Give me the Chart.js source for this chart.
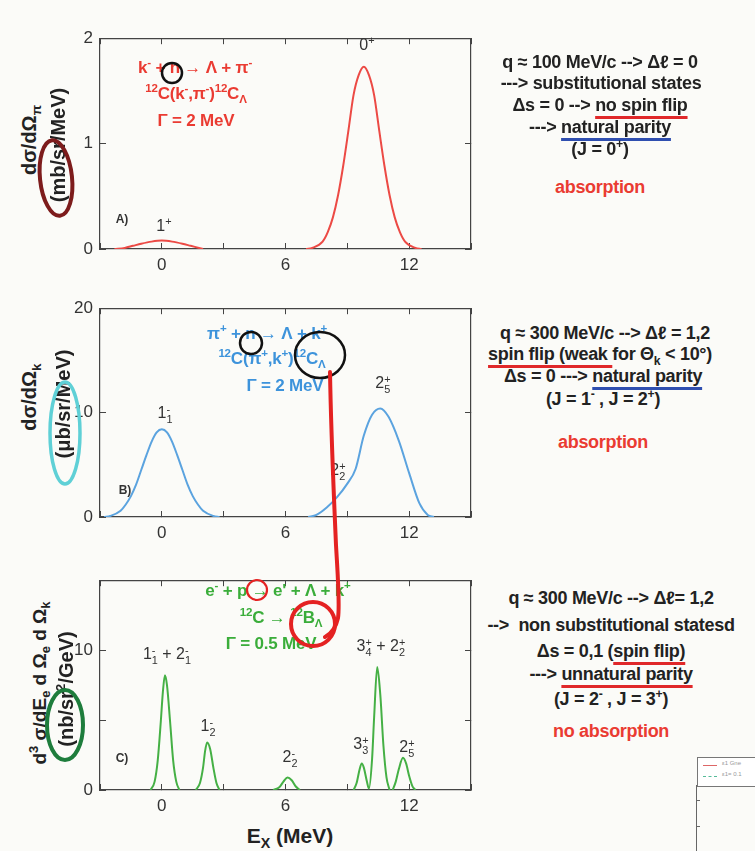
<!DOCTYPE html>
<html>
<head>
<meta charset="utf-8">
<script src="https://cdn.jsdelivr.net/npm/chart.js@4.4.1/dist/chart.umd.min.js"></script>
<style>
  body { margin: 0; background: #fbfbf8; font-family: "Liberation Sans", Arial, sans-serif; }
  #page { position: relative; width: 755px; height: 851px; overflow: hidden; background: #fbfbf8; }
  canvas.panel { position: absolute; }
  .t { position: absolute; white-space: nowrap; transform: translate(-50%, -50%); line-height: 1; }
  .b { font-weight: bold; }
  .lab { font-size: 16px; color: #333; }
  .tag { font-size: 12px; font-weight: bold; color: #333; }
  .ss { display: inline-block; vertical-align: -0.45em; font-size: 0.68em; line-height: 0.95; text-align: left; }
  .ss i { display: block; font-style: normal; }
  sup, sub { font-size: 0.68em; line-height: 0; }
  .eq { font-size: 17px; font-weight: bold; letter-spacing: -0.2px; }
  .red { color: #ea3b32; }
  .blue { color: #3d93db; }
  .green { color: #3aad3a; }
  .side { font-size: 18px; font-weight: bold; color: #222; letter-spacing: -0.3px; }
  .ur, .ub { text-decoration: underline; text-decoration-thickness: 3px; text-underline-offset: 5px; text-decoration-skip-ink: none; }
  .ur { text-decoration-color: #e0282a; }
  .ub { text-decoration-color: #2f4fb0; }
  .ytitle { position: absolute; white-space: nowrap; font-weight: bold; font-size: 20px; color: #222; transform: translate(-50%, -50%) rotate(-90deg); line-height: 1; }
  svg.marks { position: absolute; left: 0; top: 0; pointer-events: none; }
</style>
</head>
<body>
<div id="page">
  <canvas id="chartA" class="panel"></canvas>
  <canvas id="chartB" class="panel"></canvas>
  <canvas id="chartC" class="panel"></canvas>

  <!-- axis titles -->
  <div class="ytitle" style="left:29px; top:140px;">dσ/dΩ<sub>π</sub></div>
  <div class="ytitle" style="left:58px; top:145px;">(mb/sr/MeV)</div>
  <div class="ytitle" style="left:29px; top:397px;">dσ/dΩ<sub>k</sub></div>
  <div class="ytitle" style="left:63px; top:404px;">(μb/sr/MeV)</div>
  <div class="ytitle" style="left:39px; top:683px; font-size:19px;">d<sup>3</sup> σ/dE<sub>e</sub> d Ω<sub>e</sub> d Ω<sub>k</sub></div>
  <div class="ytitle" style="left:66px; top:689px;">(nb/sr<sup>2</sup>/GeV)</div>
  <div class="t b" style="left:290px; top:835px; font-size:21px; color:#222;">E<sub>X</sub> (MeV)</div>

  <!-- panel A text -->
  <div class="t eq red" style="left:195px; top:67px;">k<sup>-</sup> + n → Λ + π<sup>-</sup></div>
  <div class="t eq red" style="left:196px; top:93px;"><sup>12</sup>C(k<sup>-</sup>,π<sup>-</sup>)<sup>12</sup>C<sub>Λ</sub></div>
  <div class="t eq red" style="left:196px; top:120px;">Γ = 2 MeV</div>
  <div class="t lab" style="left:367px; top:45px;">0<sup>+</sup></div>
  <div class="t lab" style="left:164px; top:226px;">1<sup>+</sup></div>
  <div class="t tag" style="left:122px; top:219px;">A)</div>

  <!-- panel B text -->
  <div class="t eq blue" style="left:267px; top:333px;">π<sup>+</sup> + n → Λ + k<sup>+</sup></div>
  <div class="t eq blue" style="left:272px; top:358px;"><sup>12</sup>C(π<sup>+</sup>,k<sup>+</sup>)<sup>12</sup>C<sub>Λ</sub></div>
  <div class="t eq blue" style="left:285px; top:385px;">Γ = 2 MeV</div>
  <div class="t lab" style="left:165px; top:414px;">1<span class="ss"><i>-</i><i>1</i></span></div>
  <div class="t lab" style="left:383px; top:384px;">2<span class="ss"><i>+</i><i>5</i></span></div>
  <div class="t lab" style="left:338px; top:471px;">2<span class="ss"><i>+</i><i>2</i></span></div>
  <div class="t tag" style="left:125px; top:490px;">B)</div>

  <!-- panel C text -->
  <div class="t eq green" style="left:278px; top:590px;">e<sup>-</sup> + p → e' + Λ + k<sup>+</sup></div>
  <div class="t eq green" style="left:281px; top:617px;"><sup>12</sup>C → <sup>12</sup>B<sub>Λ</sub></div>
  <div class="t eq green" style="left:271px; top:643px;">Γ = 0.5 MeV</div>
  <div class="t lab" style="left:167px; top:655px;">1<span class="ss"><i>-</i><i>1</i></span> + 2<span class="ss"><i>-</i><i>1</i></span></div>
  <div class="t lab" style="left:208px; top:727px;">1<span class="ss"><i>-</i><i>2</i></span></div>
  <div class="t lab" style="left:290px; top:758px;">2<span class="ss"><i>-</i><i>2</i></span></div>
  <div class="t lab" style="left:361px; top:745px;">3<span class="ss"><i>+</i><i>3</i></span></div>
  <div class="t lab" style="left:381px; top:647px;">3<span class="ss"><i>+</i><i>4</i></span> + 2<span class="ss"><i>+</i><i>2</i></span></div>
  <div class="t lab" style="left:407px; top:748px;">2<span class="ss"><i>+</i><i>5</i></span></div>
  <div class="t tag" style="left:122px; top:758px;">C)</div>

  <!-- right side notes -->
  <div class="t side" style="left:600px; top:62px;">q ≈ 100 MeV/c --&gt; Δℓ = 0</div>
  <div class="t side" style="left:601px; top:83px;">---&gt; substitutional states</div>
  <div class="t side" style="left:600px; top:105px;">Δs = 0 --&gt; <span class="ur">no spin flip</span></div>
  <div class="t side" style="left:600px; top:127px;">---&gt; <span class="ub">natural parity</span></div>
  <div class="t side" style="left:600px; top:149px;">(J = 0<sup>+</sup>)</div>
  <div class="t side" style="left:600px; top:187px; color:#ea3b32;">absorption</div>

  <div class="t side" style="left:605px; top:333px;">q ≈ 300 MeV/c --&gt; Δℓ = 1,2</div>
  <div class="t side" style="left:600px; top:354px;"><span class="ur">spin flip (weak </span>for Θ<sub>k</sub> &lt; 10°)</div>
  <div class="t side" style="left:603px; top:376px;">Δs = 0 ---&gt; <span class="ub">natural parity</span></div>
  <div class="t side" style="left:603px; top:399px;">(J = 1<sup>-</sup> , J = 2<sup>+</sup>)</div>
  <div class="t side" style="left:603px; top:442px; color:#ea3b32;">absorption</div>

  <div class="t side" style="left:611px; top:598px;">q ≈ 300 MeV/c --&gt; Δℓ= 1,2</div>
  <div class="t side" style="left:611px; top:625px;">--&gt;&nbsp; non substitutional statesd</div>
  <div class="t side" style="left:611px; top:651px;">Δs = 0,1 (<span class="ur">spin flip)</span></div>
  <div class="t side" style="left:611px; top:674px;">---&gt; <span class="ur">unnatural parity</span></div>
  <div class="t side" style="left:611px; top:699px;">(J = 2<sup>-</sup> , J = 3<sup>+</sup>)</div>
  <div class="t side" style="left:611px; top:731px; color:#ea3b32;">no absorption</div>

  <!-- fragment of another figure, bottom right -->
  <div style="position:absolute; left:697px; top:757px; width:70px; height:28px; border:1px solid #777; background:#fff;"></div>
  <div style="position:absolute; left:703px; top:765px; width:14px; border-top:1px solid #d66;"></div>
  <div style="position:absolute; left:703px; top:776px; width:14px; border-top:1px dashed #5b9;"></div>
  <div style="position:absolute; left:722px; top:760px; font-size:6px; color:#999;">ε1 Gne</div>
  <div style="position:absolute; left:722px; top:771px; font-size:6px; color:#999;">ε1= 0.1</div>
  <div style="position:absolute; left:696px; top:785px; height:66px; border-left:1px solid #666;"></div>
  <div style="position:absolute; left:696px; top:800px; width:4px; border-top:1px solid #666;"></div>
  <div style="position:absolute; left:696px; top:826px; width:4px; border-top:1px solid #666;"></div>

  <!-- hand drawn marks -->
  <svg class="marks" width="755" height="851">
    <g fill="none" stroke-linecap="round">
      <ellipse cx="56" cy="178" rx="16" ry="38" stroke="#7d1c1c" stroke-width="4" transform="rotate(-6 56 178)"/>
      <ellipse cx="65" cy="433" rx="15" ry="51" stroke="#5fd0d6" stroke-width="3.5"/>
      <ellipse cx="65" cy="725" rx="18" ry="35" stroke="#1e7d3c" stroke-width="4"/>
      <circle cx="172" cy="73" r="10" stroke="#111" stroke-width="2.5"/>
      <circle cx="251" cy="343" r="11" stroke="#111" stroke-width="2.5"/>
      <ellipse cx="320" cy="355" rx="25" ry="23" stroke="#111" stroke-width="2.5"/>
      <path d="M330 372 C 331 430, 334 500, 336 545 C 338 580, 340 605, 338 618 Q 335 632 325 637" stroke="#e42222" stroke-width="4"/>
      <circle cx="313" cy="624" r="22" stroke="#e42222" stroke-width="4"/>
      <circle cx="257" cy="590" r="10" stroke="#e42222" stroke-width="2.2"/>
    </g>
  </svg>
</div>

<script>
// x axis (MeV) shared by all panels
const xMin = -3, xMax = 15, xStep = 3;
const xTickLabels = [0, 6, 12];

// A) 12C(k-,pi-)12C_Lambda, Gamma = 2 MeV
const aX = [-2.3, -1.8, -1.4, -1.0, -0.5, 0, 0.5, 1.0, 1.4, 1.8, 2.0, null,
  7.0, 7.3, 7.8, 8.05, 8.3, 8.55, 8.8, 9.05, 9.3, 9.55, 9.8, 10.05, 10.3, 10.55, 10.8, 11.05, 11.3, 11.55, 11.8, 12.3, 12.6];
const aY = [0, 0.01, 0.03, 0.05, 0.07, 0.08, 0.07, 0.05, 0.03, 0.01, 0, null,
  0, 0.01, 0.07, 0.16, 0.30, 0.51, 0.79, 1.12, 1.46, 1.65, 1.73, 1.65, 1.46, 1.12, 0.79, 0.51, 0.30, 0.16, 0.07, 0.01, 0];
const aYMax = 2, aYStep = 1, aYLabels = [0, 1, 2];

// B) 12C(pi+,k+)12C_Lambda, Gamma = 2 MeV
const bX = [-2.8, -2.5, -2.0, -1.75, -1.5, -1.25, -1.0, -0.75, -0.5, -0.25, 0, 0.25, 0.5, 0.75, 1.0, 1.25, 1.5, 1.75, 2.0, 2.5, 2.8, null,
  7.1, 7.5, 8.0, 8.5, 9.0, 9.4, 9.8, 10.2, 10.6, 11.0, 11.5, 12.0, 12.5, 12.9, 13.2];
const bY = [0, 0.1, 0.6, 1.2, 2.0, 3.1, 4.5, 5.9, 7.2, 8.1, 8.4, 8.1, 7.2, 5.9, 4.5, 3.1, 2.0, 1.2, 0.6, 0.1, 0, null,
  0, 0.2, 0.9, 1.9, 3.2, 4.6, 7.8, 9.8, 10.4, 9.6, 7.3, 4.2, 1.3, 0.2, 0];
const bYMax = 20, bYStep = 10, bYLabels = [0, 10, 20];

// C) 12C(e,e'k+)12B_Lambda, Gamma = 0.5 MeV
const cX = [-0.55, -0.35, -0.2, -0.05, 0.05, 0.15, 0.25, 0.4, 0.55, 0.7, 0.85, null,
  1.65, 1.85, 2.0, 2.1, 2.2, 2.35, 2.5, 2.65, 2.8, null,
  5.4, 5.7, 5.9, 6.1, 6.3, 6.5, 6.7, null,
  9.3, 9.45, 9.6, 9.7, 9.8, 9.95, 10.05, 10.2, 10.3, 10.45, 10.6, 10.75, 10.9, 11.05, null,
  11.2, 11.35, 11.5, 11.7, 11.85, 12.0, 12.15, 12.3];
const cY = [0, 0.6, 2.1, 4.9, 7.0, 8.2, 7.5, 4.9, 2.1, 0.6, 0, null,
  0, 0.5, 1.6, 2.8, 3.4, 2.9, 1.6, 0.5, 0, null,
  0, 0.2, 0.6, 0.9, 0.7, 0.25, 0, null,
  0, 0.5, 1.5, 1.9, 1.6, 0.6, 0.1, 2.2, 5.2, 8.8, 6.8, 3.2, 0.9, 0, null,
  0, 0.6, 1.5, 2.3, 1.9, 1.0, 0.3, 0];
const cYMax = 15, cYStep = 5, cYLabels = [0, 10];

Chart.defaults.font.family = "'Liberation Sans', Arial, sans-serif";
Chart.defaults.font.size = 17;
Chart.defaults.color = '#333';

const AXIS = '#444';
const PAD_L = 45, PAD_T = 12, PAD_R = 12, PAD_B = 32;

function makePanel(id, box, xs, ys, yMax, yStep, yLabels, color) {
  const canvas = document.getElementById(id);
  canvas.width = box.w + PAD_L + PAD_R;
  canvas.height = box.h + PAD_T + PAD_B;
  canvas.style.left = (box.l - PAD_L) + 'px';
  canvas.style.top = (box.t - PAD_T) + 'px';

  // tick marks point into the frame on all four sides
  const grid = { drawOnChartArea: false, tickLength: -6, color: AXIS, lineWidth: 1 };
  const border = { color: AXIS, width: 1.2 };
  const data = xs.map((x, i) => ({ x: x, y: ys[i] }));

  return new Chart(canvas, {
    type: 'line',
    data: {
      datasets: [{
        data,
        borderColor: color,
        borderWidth: 2,
        pointRadius: 0,
        cubicInterpolationMode: 'monotone',
        spanGaps: false,
        fill: false,
      }]
    },
    options: {
      responsive: false,
      animation: false,
      layout: { padding: { top: PAD_T, right: PAD_R, left: 0, bottom: 0 } },
      plugins: { legend: { display: false }, tooltip: { enabled: false } },
      scales: {
        x: {
          type: 'linear', position: 'bottom', min: xMin, max: xMax,
          grid, border,
          ticks: {
            stepSize: xStep, padding: 12, maxRotation: 0, autoSkip: false,
            callback: v => xTickLabels.includes(v) ? String(v) : ''
          },
          afterFit: s => { s.height = PAD_B; }
        },
        x2: {
          type: 'linear', position: 'top', min: xMin, max: xMax,
          grid, border,
          ticks: { stepSize: xStep, display: false },
          afterFit: s => { s.height = 0; }
        },
        y: {
          type: 'linear', position: 'left', min: 0, max: yMax,
          grid, border,
          ticks: {
            stepSize: yStep, padding: 13, autoSkip: false,
            callback: v => yLabels.includes(v) ? String(v) : ''
          },
          afterFit: s => { s.width = PAD_L; }
        },
        y2: {
          type: 'linear', position: 'right', min: 0, max: yMax,
          grid, border,
          ticks: { stepSize: yStep, display: false },
          afterFit: s => { s.width = 0; }
        }
      }
    }
  });
}

makePanel('chartA', { l: 100, t: 27, w: 371, h: 222 }, aX, aY, aYMax, aYStep, aYLabels, '#ec4a45');
makePanel('chartB', { l: 100, t: 297, w: 371, h: 220 }, bX, bY, bYMax, bYStep, bYLabels, '#5ba3df');
makePanel('chartC', { l: 100, t: 569, w: 371, h: 221 }, cX, cY, cYMax, cYStep, cYLabels, '#45b045');
</script>
</body>
</html>
